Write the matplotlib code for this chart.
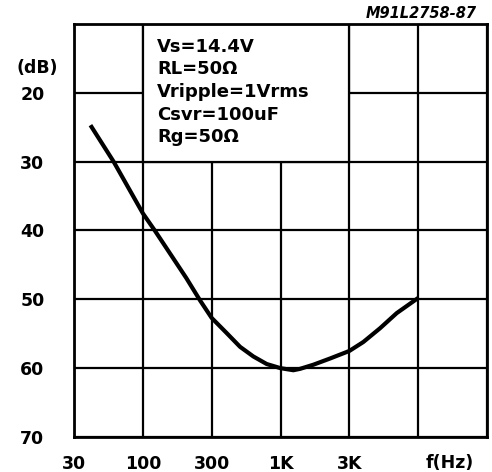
import numpy as np
import matplotlib
matplotlib.use("Agg")
import matplotlib.pyplot as plt
from matplotlib.patches import Rectangle

# ---- data ----
freq_hz = [40, 60, 100, 121, 200, 250, 300, 390, 493, 622, 786, 1000, 1227,
           1366, 1689, 2203, 3000, 3831, 5133, 6874, 10000]
rejection_db = [24.7, 30.0, 37.5, 40.0, 46.9, 50.2, 52.7, 54.9, 56.9, 58.3, 59.4,
                60.0, 60.3, 60.1, 59.5, 58.6, 57.5, 56.2, 54.2, 52.0, 49.8]

grid_freqs = [30, 100, 300, 1000, 3000, 10000, 30000]
x_tick_labels = ["30", "100", "300", "1K", "3K", "", ""]
y_ticks = [20, 30, 40, 50, 60, 70]
y_tick_labels = ["20", "30", "40", "50", "60", "70"]
conditions = ["Vs=14.4V", "RL=50Ω", "Vripple=1Vrms", "Csvr=100uF", "Rg=50Ω"]
figure_code = "M91L2758-87"

# ---- equally spaced frequency scale (plotter grid) ----
_lg = np.log10(grid_freqs)
_idx = np.arange(len(grid_freqs), dtype=float)

def fwd(f):
    f = np.asarray(f, dtype=float)
    return np.interp(np.log10(np.clip(f, 1e-9, None)), _lg, _idx)

def inv(x):
    x = np.asarray(x, dtype=float)
    return 10 ** np.interp(x, _idx, _lg)

plt.rcParams['font.family'] = ['DejaVu Sans']

fig = plt.figure(figsize=(4.92, 4.72), dpi=100)
ax = fig.add_axes([74/492, 1-437/472, (487-74)/492, (437-24)/472])
ax.set_xscale('function', functions=(fwd, inv))
ax.set_xlim(30, 30000)
ax.set_ylim(70, 10)

lw_grid = 1.6
ax.set_xticks(grid_freqs)
ax.set_xticklabels(x_tick_labels)
ax.xaxis.set_minor_locator(plt.NullLocator())
ax.set_yticks(y_ticks)
ax.set_yticklabels(y_tick_labels)
ax.tick_params(axis='both', length=0)
ax.tick_params(axis='x', pad=13)
for lab in ax.get_xticklabels() + ax.get_yticklabels():
    lab.set_fontweight('bold')
    lab.set_fontsize(12.5)
for lab in ax.get_yticklabels():
    lab.set_horizontalalignment('center')
ax.tick_params(axis='y', pad=30)

ax.grid(True, color='black', linewidth=lw_grid, zorder=1)
ax.set_axisbelow(True)
for s in ax.spines.values():
    s.set_linewidth(2.0)
    s.set_color('black')
    s.set_zorder(5)

# white panel holding the conditions (covers grid cells 100Hz..3kHz, 10..30dB)
rect = Rectangle((100, 10), 3000 - 100, 20, facecolor='white',
                 edgecolor='black', linewidth=lw_grid, zorder=2)
ax.add_patch(rect)

ax.plot(freq_hz, rejection_db, color='black', linewidth=3.0,
        solid_capstyle='butt', solid_joinstyle='round', zorder=4)

# condition text
for i, t in enumerate(conditions):
    fig.text(157/492, 1 - (47 + i*22.5)/472, t, fontsize=13,
             fontweight='bold', ha='left', va='center', zorder=6)

fig.text(37/492, 1 - 68/472, "(dB)", fontsize=12.5, fontweight='bold',
         ha='center', va='center')
fig.text(450/492, 1 - 463/472, "f(Hz)", fontsize=12.5, fontweight='bold',
         ha='center', va='center')
fig.text(477/492, 1 - 14/472, figure_code, fontsize=10.5, fontweight='bold',
         fontstyle='italic', ha='right', va='center')

fig.savefig("out.png", dpi=100, facecolor='white')
